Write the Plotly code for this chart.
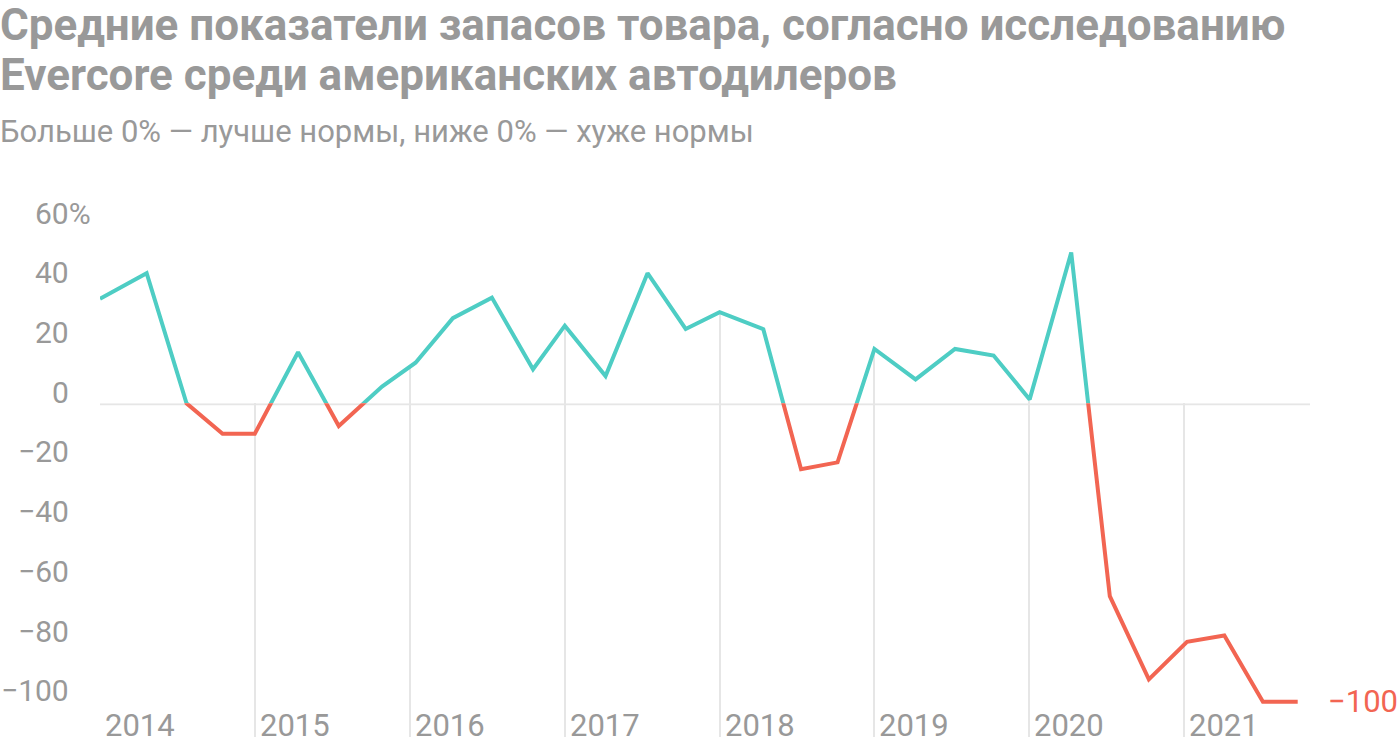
import plotly.graph_objects as go

# ---- data ----
dates = [
    "2014-01-01", "2014-04-21", "2014-07-24", "2014-10-17",
    "2015-01-01", "2015-04-13", "2015-07-18", "2015-10-28",
    "2016-01-15", "2016-04-12", "2016-07-13", "2016-10-18",
    "2017-01-01", "2017-04-07", "2017-07-15", "2017-10-13",
    "2018-01-01", "2018-04-14", "2018-07-12", "2018-10-06",
    "2019-01-01", "2019-04-08", "2019-07-10", "2019-10-09",
    "2020-01-02", "2020-04-09", "2020-07-09", "2020-10-09",
    "2021-01-07", "2021-04-05", "2021-07-05", "2021-09-25",
]
values = [
    35, 43.6, 0, -10.2,
    -10.2, 17.1, -7.6, 5.6,
    13.6, 28.5, 35.4, 11.4,
    26.0, 9.1, 43.6, 24.9,
    30.5, 24.8, -22.1, -19.8,
    18.2, 8.0, 18.2, 16.0,
    1.3, 50.5, -64.6, -92.5,
    -79.9, -77.8, -100, -100,
]
year_labels = ["2014", "2015", "2016", "2017", "2018", "2019", "2020", "2021"]
pos_ticks = [0, 20, 40]
top_tick = 60
neg_ticks = [-20, -40, -60, -80, -100]

title_1 = "Средние показатели запасов товара, согласно исследованию"
title_2 = "Evercore среди американских автодилеров"
subtitle = "Больше 0% — лучше нормы, ниже 0% — хуже нормы"
last_label = "−100"

# ---- style ----
TEAL = "#4ecdc4"
RED = "#f26552"
GRID = "#e6e6e6"
TXT = "#999999"
FONT = "Roboto"
TICK_SIZE = 31
YLAB_SIZE = 30

Y_MIN, Y_MAX = -111.8, 68.1
split = -Y_MIN / (Y_MAX - Y_MIN)  # fraction of plot height below zero
X_RANGE = ["2014-01-01", "2021-10-24"]

MT, MB = 200, 11
plot_h = 748 - MT - MB

def py(pix):  # pixel from top of page -> paper coordinate
    return (748 - MB - pix) / plot_h

def fmt(v):
    return str(v).replace("-", "−")

fig = go.Figure()

# white mask above the line (hides year gridlines above the curve) + teal part
fig.add_trace(go.Scatter(x=[dates[0], dates[-1]], y=[Y_MAX, Y_MAX], mode="lines",
                         line=dict(width=0), yaxis="y", hoverinfo="skip",
                         showlegend=False))
fig.add_trace(go.Scatter(x=dates, y=values, mode="lines", yaxis="y",
                         fill="tonexty", fillcolor="white",
                         line=dict(color=TEAL, width=4), showlegend=False))
# red part (same data, drawn in the below-zero subplot only)
fig.add_trace(go.Scatter(x=dates, y=values, mode="lines", yaxis="y2",
                         line=dict(color=RED, width=4), showlegend=False))

annotations = []
# titles
for txt, ypix, size in [(f"<b>{title_1}</b>", 25, 44),
                        (f"<b>{title_2}</b>", 75, 44),
                        (subtitle, 131, 31)]:
    annotations.append(dict(text=txt, xref="paper", yref="paper",
                            x=0, y=py(ypix), xanchor="left", yanchor="middle",
                            xshift=-102,
                            font=dict(size=size, color=TXT, family=FONT),
                            showarrow=False))

# y labels
for v in pos_ticks:
    annotations.append(dict(text=fmt(v), xref="paper", yref="y", x=0, y=v,
                            xanchor="right", yanchor="middle", xshift=-29, yshift=11,
                            font=dict(size=YLAB_SIZE, color=TXT, family=FONT),
                            showarrow=False))
annotations.append(dict(text=f"{top_tick}%", xref="paper", yref="y", x=0, y=top_tick,
                        xanchor="right", yanchor="middle", xshift=-7, yshift=11,
                        font=dict(size=YLAB_SIZE, color=TXT, family=FONT),
                        showarrow=False))
for v in neg_ticks:
    annotations.append(dict(text=fmt(v), xref="paper", yref="y2", x=0, y=v,
                            xanchor="right", yanchor="middle", xshift=-29, yshift=11,
                            font=dict(size=YLAB_SIZE, color=TXT, family=FONT),
                            showarrow=False))

# year labels
for yl in year_labels:
    annotations.append(dict(text=yl, xref="x", yref="y2 domain", x=f"{yl}-01-01", y=0,
                            xanchor="left", yanchor="bottom", xshift=3, yshift=-9,
                            font=dict(size=TICK_SIZE, color=TXT, family=FONT),
                            showarrow=False))

# end label
annotations.append(dict(text=last_label, xref="x", yref="y2", x=dates[-1], y=values[-1],
                        xanchor="left", yanchor="middle", xshift=28, yshift=0,
                        font=dict(size=TICK_SIZE, color=RED, family=FONT),
                        showarrow=False))

fig.update_layout(
    width=1400, height=748,
    margin=dict(l=100, r=90, t=MT, b=MB),
    paper_bgcolor="white", plot_bgcolor="white",
    font=dict(family=FONT, color=TXT),
    xaxis=dict(type="date", range=X_RANGE, tick0="2014-01-01", dtick="M12",
               showgrid=True, gridcolor=GRID, gridwidth=2,
               showticklabels=False, zeroline=False, showline=False, ticks=""),
    yaxis=dict(domain=[split, 1], range=[0, Y_MAX], visible=False),
    yaxis2=dict(domain=[0, split], range=[Y_MIN, 0], visible=False, anchor="x"),
    annotations=annotations,
    shapes=[dict(type="rect", xref="x", yref="y2", x0=X_RANGE[0], x1=X_RANGE[1],
                 ysizemode="pixel", yanchor=0, y0=-2, y1=0,
                 fillcolor=GRID, line=dict(width=0), layer="below")],
    showlegend=False,
)

fig.write_html("out.html")
